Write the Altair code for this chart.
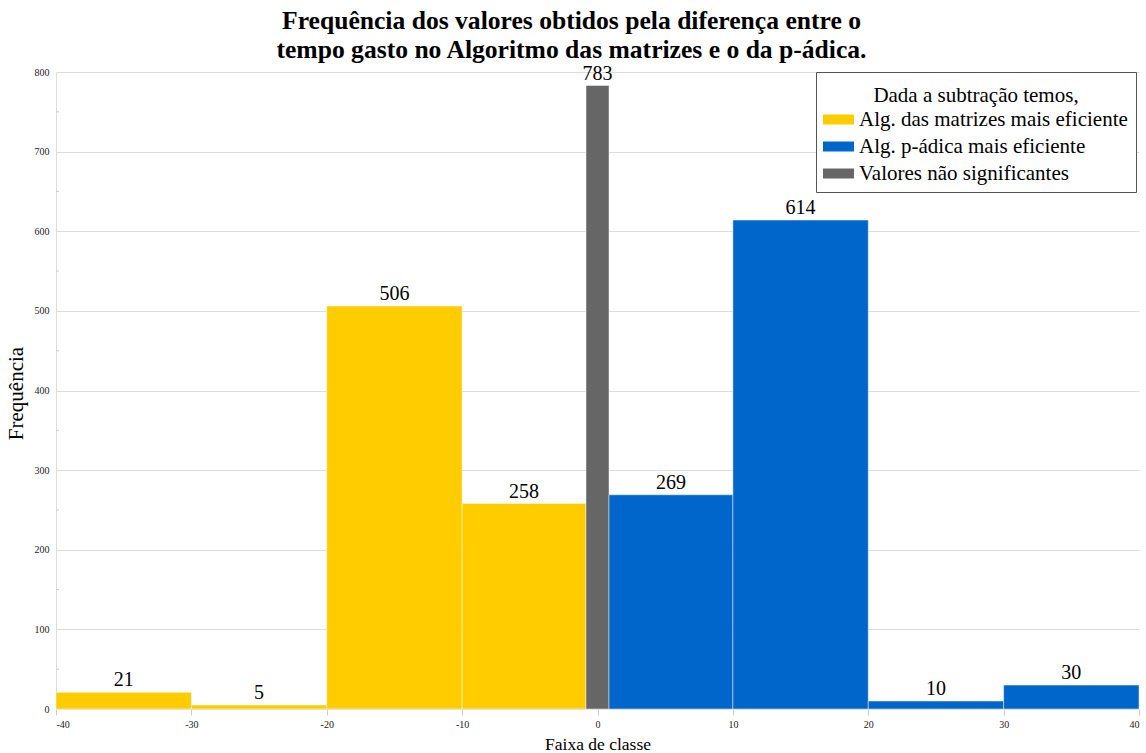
import altair as alt
import pandas as pd

# Class intervals of the difference (matrix time minus p-adic time)
bin_start = [-40, -30, -20, -10, -0.85, 0.85, 10, 20, 30]
bin_end = [-30, -20, -10, -0.85, 0.85, 10, 20, 30, 40]
frequency = [21, 5, 506, 258, 783, 269, 614, 10, 30]
group = [
    "Alg. das matrizes mais eficiente",
    "Alg. das matrizes mais eficiente",
    "Alg. das matrizes mais eficiente",
    "Alg. das matrizes mais eficiente",
    "Valores não significantes",
    "Alg. p-ádica mais eficiente",
    "Alg. p-ádica mais eficiente",
    "Alg. p-ádica mais eficiente",
    "Alg. p-ádica mais eficiente",
]

categories = [
    "Alg. das matrizes mais eficiente",
    "Alg. p-ádica mais eficiente",
    "Valores não significantes",
]
colors = ["#FFCC00", "#0066CC", "#666666"]

x_ticks = [-40, -30, -20, -10, 0, 10, 20, 30, 40]
y_ticks = [0, 100, 200, 300, 400, 500, 600, 700, 800]
y_minor = [50, 150, 250, 350, 450, 550, 650, 750]

df = pd.DataFrame({
    "start": bin_start,
    "end": bin_end,
    "freq": frequency,
    "grupo": group,
})
df["mid"] = (df["start"] + df["end"]) / 2
df["rotulo"] = df["freq"].astype(str)

SERIF = "Liberation Serif, Times New Roman, serif"

x_scale = alt.Scale(domain=[-40, 40], nice=False, zero=False)
y_scale = alt.Scale(domain=[0, 800], nice=False)

bars = alt.Chart(df).mark_rect(
    stroke="#ffffff", strokeOpacity=0.45, strokeWidth=1
).encode(
    x=alt.X(
        "start:Q",
        scale=x_scale,
        axis=alt.Axis(
            values=x_ticks,
            labelExpr="'' + datum.value",
            title="Faixa de classe",
            titleFontSize=17.5,
            grid=False,
            domain=False,
            tickColor="#cccccc",
            tickSize=6,
            labelPadding=4,
            titlePadding=6,
        ),
    ),
    x2="end:Q",
    y=alt.Y(
        "freq:Q",
        scale=y_scale,
        axis=alt.Axis(
            values=y_ticks,
            title="Frequência",
            titleFontSize=21,
            titleY=321,
            grid=True,
            ticks=False,
            domainColor="#dddddd",
            labelPadding=7,
            titlePadding=8,
        ),
    ),
    y2=alt.datum(0),
    color=alt.Color(
        "grupo:N",
        scale=alt.Scale(domain=categories, range=colors),
        legend=alt.Legend(
            title="Dada a subtração temos,",
            orient="none",
            legendX=760,
            legendY=0,
            fillColor="#ffffff",
            strokeColor="#555555",
            padding=8,
            titleAnchor="middle",
            titleFontSize=21,
            titleFontWeight="normal",
            titleColor="#000000",
            titleLimit=500,
            titleBaseline="line-top",
            titleLineHeight=31,
            titlePadding=8,
            labelFontSize=21,
            labelColor="#000000",
            labelLimit=500,
            symbolType="M-3.1,-1H3.1V1H-3.1Z",
            symbolSize=100,
            symbolOffset=4,
            symbolStrokeWidth=0,
            symbolOpacity=1,
            labelOffset=10,
            rowPadding=5,
        ),
    ),
)

labels = alt.Chart(df).mark_text(
    fontSize=20, baseline="bottom", dy=-2, color="#000000"
).encode(
    x=alt.X("mid:Q", scale=x_scale),
    y=alt.Y("freq:Q", scale=y_scale),
    text=alt.Text("rotulo:N"),
)

minor_ticks = alt.Chart(pd.DataFrame({"v": y_minor})).mark_rule(
    color="#cccccc", strokeWidth=1
).encode(
    y=alt.Y("v:Q", scale=y_scale),
    x=alt.value(0),
    x2=alt.value(3),
)

chart = alt.layer(bars, minor_ticks, labels).properties(
    width=1083,
    height=637,
    title=alt.TitleParams(
        text=[
            "Frequência dos valores obtidos pela diferença entre o",
            "tempo gasto no Algoritmo das matrizes e o da p-ádica.",
        ],
        fontSize=25.6,
        fontWeight="bold",
        color="#000000",
        anchor="middle",
        dx=-26,
        offset=0,
        lineHeight=29,
    ),
    autosize=alt.AutoSizeParams(type="none"),
    padding={"left": 56, "top": 72, "right": 7, "bottom": 44},
).configure(
    font=SERIF
).configure_view(
    stroke=None
).configure_text(
    font=SERIF
).configure_legend(
    labelFont=SERIF,
    titleFont=SERIF,
).configure_title(
    font=SERIF
).configure_axis(
    labelFont=SERIF,
    labelFontSize=10,
    labelColor="#222222",
    titleFont=SERIF,
    titleFontWeight="normal",
    titleColor="#000000",
    gridColor="#dddddd",
)

chart.save("out.html", embed_options={"renderer": "svg", "actions": False})
